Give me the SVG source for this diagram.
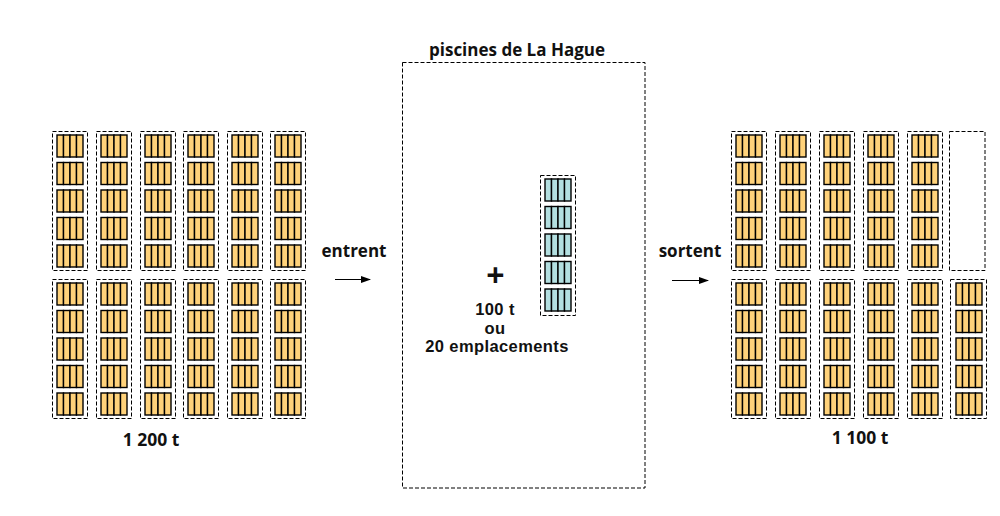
<svg xmlns="http://www.w3.org/2000/svg" xmlns:xlink="http://www.w3.org/1999/xlink" width="1000" height="516" viewBox="0 0 1000 516">
<style>
.box{fill:none;stroke:#000;stroke-width:1;stroke-dasharray:4 2}
.rod{stroke:#000;stroke-width:1.4}
.or{fill:#ffd27a}
.bl{fill:#b3dfe0}
text{font-family:"Open Sans","Liberation Sans",sans-serif;font-weight:bold;fill:#111;text-anchor:middle}
.lbl{font-size:17px}
.tight{font-family:"Liberation Sans","Open Sans",sans-serif;font-size:16.5px;letter-spacing:0.4px}
.arrow{stroke:#000;stroke-width:1.2;fill:none}
</style>
<defs>
<g id="rods">
<rect class="rod" x="0" y="0" width="6.5" height="22"/>
<rect class="rod" x="6.5" y="0" width="6.5" height="22"/>
<rect class="rod" x="13" y="0" width="6.5" height="22"/>
<rect class="rod" x="19.5" y="0" width="6.5" height="22"/>
</g>
<g id="stack">
<use href="#rods" x="4.5" y="3.5"/>
<use href="#rods" x="4.5" y="31"/>
<use href="#rods" x="4.5" y="58.5"/>
<use href="#rods" x="4.5" y="86"/>
<use href="#rods" x="4.5" y="113.5"/>
</g>
<marker id="ah" markerWidth="10" markerHeight="8" refX="9" refY="4" orient="auto" markerUnits="userSpaceOnUse"><path d="M0,0.5 L10,4 L0,7.5 z" fill="#000"/></marker>
</defs>

<g id="pool">
<rect class="box" x="402.5" y="62.5" width="242.5" height="425.5"/>
<text x="517" y="56" style="font-size:17px">piscines de La Hague</text>
</g>

<g id="left-block" class="or">
<g id="l1t"><rect class="box" x="52.5" y="131.5" width="35" height="139"/><use href="#stack" x="52.5" y="131.5"/></g>
<g id="l2t"><rect class="box" x="96.5" y="131.5" width="35" height="139"/><use href="#stack" x="96.5" y="131.5"/></g>
<g id="l3t"><rect class="box" x="140.5" y="131.5" width="35" height="139"/><use href="#stack" x="140.5" y="131.5"/></g>
<g id="l4t"><rect class="box" x="183.5" y="131.5" width="35" height="139"/><use href="#stack" x="183.5" y="131.5"/></g>
<g id="l5t"><rect class="box" x="227.5" y="131.5" width="35" height="139"/><use href="#stack" x="227.5" y="131.5"/></g>
<g id="l6t"><rect class="box" x="270.5" y="131.5" width="35" height="139"/><use href="#stack" x="270.5" y="131.5"/></g>
<g id="l1b"><rect class="box" x="52.5" y="279.5" width="35" height="139"/><use href="#stack" x="52.5" y="279.5"/></g>
<g id="l2b"><rect class="box" x="96.5" y="279.5" width="35" height="139"/><use href="#stack" x="96.5" y="279.5"/></g>
<g id="l3b"><rect class="box" x="140.5" y="279.5" width="35" height="139"/><use href="#stack" x="140.5" y="279.5"/></g>
<g id="l4b"><rect class="box" x="183.5" y="279.5" width="35" height="139"/><use href="#stack" x="183.5" y="279.5"/></g>
<g id="l5b"><rect class="box" x="227.5" y="279.5" width="35" height="139"/><use href="#stack" x="227.5" y="279.5"/></g>
<g id="l6b"><rect class="box" x="270.5" y="279.5" width="35" height="139"/><use href="#stack" x="270.5" y="279.5"/></g>
<text class="lbl" x="151" y="446" style="font-size:17.5px">1 200 t</text>
</g>

<g id="added" class="bl">
<rect class="box" x="540.5" y="175.5" width="35" height="140"/><use href="#stack" x="540.5" y="175.5"/>
</g>
<g id="added-label">
<text x="495.5" y="287" style="font-size:32px">+</text>
<text class="tight"><tspan x="495" y="315">100 t</tspan><tspan x="495" y="333.5">ou</tspan><tspan x="497" y="352">20 emplacements</tspan></text>
</g>

<g id="right-block" class="or">
<g id="r1t"><rect class="box" x="731.5" y="131.5" width="35" height="139"/><use href="#stack" x="731.5" y="131.5"/></g>
<g id="r2t"><rect class="box" x="775.5" y="131.5" width="35" height="139"/><use href="#stack" x="775.5" y="131.5"/></g>
<g id="r3t"><rect class="box" x="819.5" y="131.5" width="35" height="139"/><use href="#stack" x="819.5" y="131.5"/></g>
<g id="r4t"><rect class="box" x="863.5" y="131.5" width="35" height="139"/><use href="#stack" x="863.5" y="131.5"/></g>
<g id="r5t"><rect class="box" x="907.5" y="131.5" width="35" height="139"/><use href="#stack" x="907.5" y="131.5"/></g>
<g id="r6t"><rect class="box" x="949.5" y="131.5" width="35.5" height="139"/></g>
<g id="r1b"><rect class="box" x="731.5" y="279.5" width="35" height="139"/><use href="#stack" x="731.5" y="279.5"/></g>
<g id="r2b"><rect class="box" x="775.5" y="279.5" width="35" height="139"/><use href="#stack" x="775.5" y="279.5"/></g>
<g id="r3b"><rect class="box" x="819.5" y="279.5" width="35" height="139"/><use href="#stack" x="819.5" y="279.5"/></g>
<g id="r4b"><rect class="box" x="863.5" y="279.5" width="35" height="139"/><use href="#stack" x="863.5" y="279.5"/></g>
<g id="r5b"><rect class="box" x="907.5" y="279.5" width="35" height="139"/><use href="#stack" x="907.5" y="279.5"/></g>
<g id="r6b"><rect class="box" x="950.5" y="279.5" width="36" height="139"/><use href="#stack" x="951.5" y="279.5"/></g>
<text class="lbl" x="860" y="444" style="font-size:17.5px">1 100 t</text>
</g>

<g id="connectors">
<g id="in"><text class="lbl" x="354" y="257">entrent</text><line class="arrow" x1="335" y1="279.5" x2="370" y2="279.5" marker-end="url(#ah)"/></g>
<g id="out"><text class="lbl" x="690" y="257">sortent</text><line class="arrow" x1="672" y1="280.5" x2="708" y2="280.5" marker-end="url(#ah)"/></g>
</g>
</svg>
